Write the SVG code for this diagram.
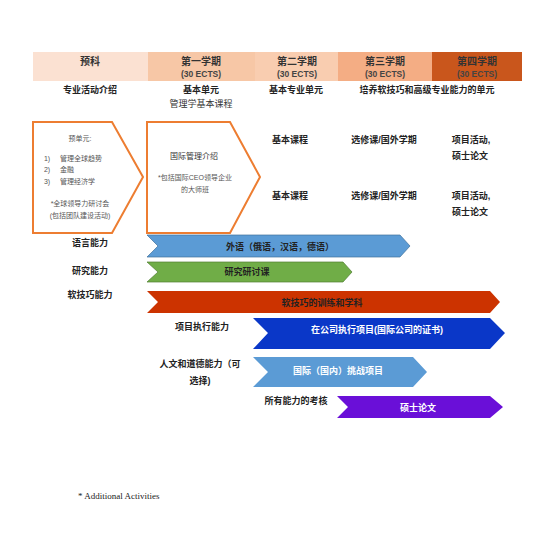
<svg xmlns="http://www.w3.org/2000/svg" width="540" height="556" viewBox="0 0 540 556">
<style>
text{font-family:"Liberation Sans","Noto Sans CJK SC",sans-serif;text-anchor:middle}
.h{font-size:10px;font-weight:bold;fill:#333}
.e{font-size:8.5px;font-weight:bold;fill:#444}
.b{font-size:9px;font-weight:bold;fill:#222}
.n{font-size:9px;fill:#333}
.s{font-size:7px;fill:#555}
.w{font-size:9px;font-weight:bold;fill:#fff}
.d{font-size:9px;font-weight:bold;fill:#222}
.chev{fill:#fff;stroke:#ed7d31;stroke-width:2}
</style>
<rect width="540" height="556" fill="#fff"/>
<g id="header">
<rect x="33" y="52" width="115" height="29" fill="#fbe1d2"/>
<rect x="148" y="52" width="107" height="29" fill="#f7c7a6"/>
<rect x="255" y="52" width="83" height="29" fill="#f9cdb0"/>
<rect x="338" y="52" width="94" height="29" fill="#f4ad84"/>
<rect x="432" y="52" width="90" height="29" fill="#c9561c"/>
<text class="h" x="90" y="65">预科</text>
<text class="h" x="201" y="65">第一学期</text>
<text class="e" x="201" y="77">(30 ECTS)</text>
<text class="h" x="297" y="65">第二学期</text>
<text class="e" x="297" y="77">(30 ECTS)</text>
<text class="h" x="385" y="65">第三学期</text>
<text class="e" x="385" y="77">(30 ECTS)</text>
<text class="h" x="477" y="65">第四学期</text>
<text class="e" x="477" y="77">(30 ECTS)</text>
<text class="b" x="90" y="93">专业活动介绍</text>
<text class="b" x="201" y="93">基本单元</text>
<text class="n" x="201" y="107">管理学基本课程</text>
<text class="b" x="296" y="93">基本专业单元</text>
<text class="b" x="427" y="93">培养软技巧和高级专业能力的单元</text>
</g>
<g id="prep-box">
<path class="chev" d="M33,122 H112 L143,177 L112,233 H33 Z"/>
<text class="s" x="80" y="141">预单元:</text>
<text class="s" x="47" y="161">1)</text>
<text class="s" x="47" y="172">2)</text>
<text class="s" x="47" y="184">3)</text>
<text class="s" x="60" y="161" style="text-anchor:start">管理全球趋势</text>
<text class="s" x="60" y="172" style="text-anchor:start">金融</text>
<text class="s" x="60" y="184" style="text-anchor:start">管理经济学</text>
<text class="s" x="80" y="206">*全球领导力研讨会</text>
<text class="s" x="80" y="218">(包括团队建设活动)</text>
</g>
<g id="sem1-box">
<path class="chev" d="M147,122 H230 L260,177 L230,233 H147 Z"/>
<text class="n" x="194" y="159" style="font-size:8px">国际管理介绍</text>
<text class="s" x="195" y="180">*包括国际CEO领导企业</text>
<text class="s" x="195" y="192">的大师班</text>
</g>
<g id="course-grid">
<text class="b" x="290" y="143">基本课程</text>
<text class="b" x="384" y="143">选修课/国外学期</text>
<text class="b" x="471" y="143">项目活动,</text>
<text class="b" x="470" y="159">硕士论文</text>
<text class="b" x="290" y="199">基本课程</text>
<text class="b" x="384" y="199">选修课/国外学期</text>
<text class="b" x="471" y="199">项目活动,</text>
<text class="b" x="470" y="215">硕士论文</text>
</g>
<g id="row-labels">
<text class="b" x="90" y="246">语言能力</text>
<text class="b" x="90" y="274">研究能力</text>
<text class="b" x="90" y="298">软技巧能力</text>
<text class="b" x="202" y="330">项目执行能力</text>
<text class="b" x="200" y="367">人文和道德能力（可</text>
<text class="b" x="200" y="384">选择)</text>
<text class="b" x="296" y="404">所有能力的考核</text>
</g>
<g id="connectors">
<g id="arrow-language">
<path d="M147,235 H400 L410,246 L400,257 H147 L158,246 Z" fill="#5b9bd5" stroke="#41719c" stroke-width="0.7"/>
<text class="d" x="280" y="250">外语（俄语，汉语，德语）</text>
</g>
<g id="arrow-research">
<path d="M147,262 H343 L352,272 L343,282 H147 L158,272 Z" fill="#70ad47" stroke="#507e32" stroke-width="0.7"/>
<text class="d" x="247" y="275">研究研讨课</text>
</g>
<g id="arrow-soft">
<path d="M147,291 H490 L500,302 L490,313 H147 L158,302 Z" fill="#cc3300"/>
<text class="d" x="322" y="306">软技巧的训练和学科</text>
</g>
<g id="arrow-project">
<path d="M253,318 H490 L505,333 L490,349 H253 L268,333 Z" fill="#0a37c8"/>
<text class="w" x="377" y="333">在公司执行项目(国际公司的证书)</text>
</g>
<g id="arrow-humanities">
<path d="M253,357 H413 L427,372 L413,387 H253 L268,372 Z" fill="#5b9bd5"/>
<text class="w" x="338" y="374">国际（国内）挑战项目</text>
</g>
<g id="arrow-thesis">
<path d="M337,396 H490 L503,407 L490,418 H337 L348,407 Z" fill="#6a0fd8"/>
<text class="w" x="418" y="411">硕士论文</text>
</g>
</g>
<text x="78" y="499" style="font-family:'Liberation Serif',serif;font-size:9px;fill:#222;text-anchor:start">* Additional Activities</text>
</svg>
